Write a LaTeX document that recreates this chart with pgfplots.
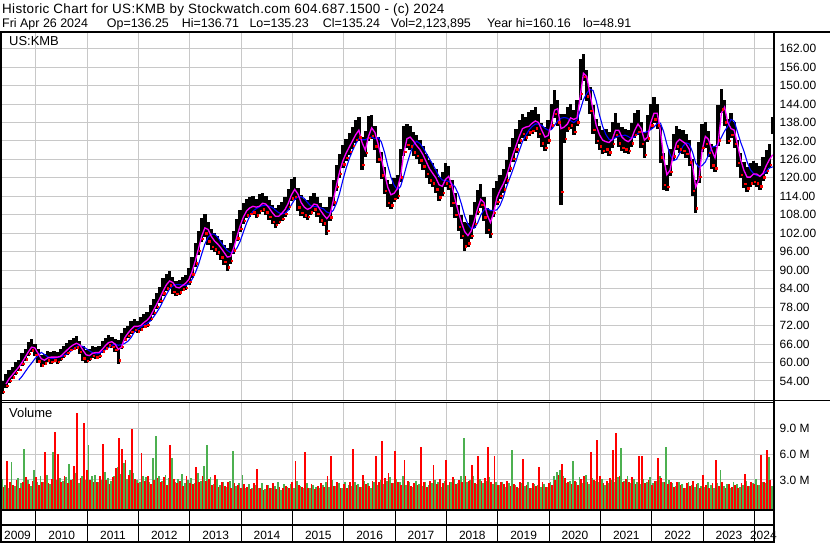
\documentclass[border=0pt]{standalone}
\usepackage{pgfplots}
\pgfplotsset{compat=1.18}
\usepackage{pgfplotstable}
\usepackage{fontspec}
\setmainfont{Liberation Sans}
\newfontfamily\hdrfontA[LetterSpace=2.5]{Liberation Sans}
\definecolor{vgreen}{RGB}{76,176,80}
\definecolor{gridgray}{RGB}{200,200,200}
\definecolor{mag}{RGB}{255,0,255}
\definecolor{mablue}{RGB}{0,0,255}

\pgfplotstableread{
i p r m1 m2 vr vg
0 50.5 1.5 nan nan 2.6 2.9
1 52 1.4 nan nan 2.2 3.1
2 54 1.5 53 nan 5.2 2.4
3 55.5 1.3 54.75 nan 2.8 2.0
4 56.5 1.2 56 nan 2.4 5.1
5 58 1.3 57.25 nan 3.0 2.3
6 59 1.2 58.5 54.3 2.1 3.2
7 61 1.4 60 55.5 2.7 2.6
8 62.5 1.3 61.75 57 3.3 6.6
9 64.5 1.5 63.5 58.5 2.5 3.0
10 65.5 1.4 65 59.8 2.9 2.3
11 64 1.3 64.75 61.2 3.3 4.2
12 62 1.5 63 62.3 2.4 2.8
13 60.5 1.3 61.25 63.3 2.7 3.4
14 61 1.2 60.75 62.6 6.2 2.7
15 62 1.2 61.5 61.9 2.6 3.6
16 61.5 1.2 61.75 61.4 3.1 2.5
17 62 1.2 61.75 61.4 8.6 6.2
18 61.5 1.2 61.75 61.6 6.0 3.0
19 62.5 1.2 62 61.9 2.8 3.2
20 63.5 1.2 63 62.2 3.4 2.9
21 64.5 1.2 64 62.8 2.6 3.3
22 65.5 1.2 65 63.5 3.0 4.9
23 66 1.3 65.75 64.4 4.6 3.1
24 66.5 1.4 66.25 65.2 10.8 3.8
25 65 1.4 65.75 65.5 3.2 2.6
26 63 1.6 64 65.2 9.6 3.4
27 62 1.3 62.5 64.5 4.1 3.0
28 62.5 1.2 62.25 63.8 3.0 7.0
29 63.5 1.2 63 63.2 2.7 3.5
30 63 1.2 63.25 62.8 2.8 3.6
31 63.5 1.2 63.25 62.9 3.4 2.7
32 65 1.3 64.25 63.5 7.2 3.0
33 66 1.3 65.5 64.2 3.0 3.9
34 67 1.3 66.5 64.9 2.5 3.2
35 66.5 1.2 66.75 65.6 3.3 2.9
36 65.5 1.3 66 66.0 4.4 3.5
37 63.5 2.8 64.25 65.6 7.9 4.5
38 67 1.8 65 65.8 6.6 3.7
39 69 1.4 68 66.2 5.3 5.0
40 70 1.3 69.5 66.9 3.6 3.1
41 71.5 1.4 70.75 68.1 8.9 4.2
42 72 1.3 71.75 69.9 3.1 3.8
43 71.5 1.3 71.75 70.8 2.6 3.0
44 72.5 1.6 72 71.5 6.1 2.7
45 73.5 1.6 73 72.2 2.9 3.5
46 74 1.6 73.75 72.7 3.4 3.3
47 76 1.8 75 73.5 2.5 2.8
48 78 1.8 77 74.8 3.0 5.5
49 80 1.8 79 76.3 3.2 8.1
50 82 1.8 81 78.0 2.7 3.4
51 84.5 2.0 83.25 80.1 3.3 2.9
52 86 1.8 85.25 82.1 2.4 3.6
53 87 1.8 86.5 83.9 7.0 3.2
54 85 1.9 86 84.9 3.1 5.6
55 84 1.7 84.5 85.3 2.6 2.8
56 84.5 1.6 84.25 85.3 2.9 3.1
57 85.5 1.6 85 85.2 2.3 3.7
58 86 1.6 85.75 85.0 3.5 2.6
59 88 1.8 87 85.6 2.6 3.0
60 91 2.4 89.5 87.0 2.5 3.2
61 95 2.8 93 89.1 4.5 2.6
62 99 2.8 97 91.8 2.8 3.8
63 103 2.8 101 95.2 3.4 2.9
64 104.5 2.6 103.75 98.5 2.9 4.6
65 102 2.6 103.25 100.7 3.1 7.0
66 100 2.4 101 101.7 2.4 3.3
67 99 2.2 99.5 101.7 3.6 2.5
68 98 2.2 98.5 100.7 2.2 3.1
69 96.5 2.3 97.25 99.1 2.7 2.4
70 95 2.3 95.75 97.7 2.3 2.7
71 93.5 2.6 94.25 96.4 2.8 2.2
72 95.5 2.4 94.5 95.7 2.0 2.9
73 99 2.6 97.25 95.9 2.6 6.4
74 103 2.6 101 97.2 2.4 2.3
75 106 2.5 104.5 99.4 2.1 2.6
76 108.5 2.4 107.25 102.4 2.5 3.6
77 110 2.2 109.25 105.3 2.2 2.1
78 110.5 2.2 110.25 107.6 1.9 2.5
79 111 2.2 110.75 109.2 2.6 2.0
80 110 2.2 110.5 110.0 4.3 2.4
81 111.5 2.2 110.75 110.6 2.1 2.0
82 112 2.2 111.75 111.0 1.8 2.6
83 111 2.2 111.5 111.1 2.4 1.9
84 109.5 2.2 110.25 110.8 2.0 2.4
85 108 2.2 108.75 110.4 2.6 2.1
86 107 2.2 107.5 109.5 1.9 2.3
87 108 2.2 107.5 108.7 2.2 2.7
88 109 2.2 108.5 108.3 2.0 1.8
89 110.5 2.2 109.75 108.5 2.3 2.5
90 113 2.4 111.75 109.5 2.1 2.2
91 116 2.6 114.5 111.3 2.7 2.5
92 116.5 2.6 116.25 113.0 5.2 2.0
93 113 2.6 114.75 113.8 2.4 2.9
94 111 2.3 112 113.9 2.2 2.3
95 110 2.2 110.5 113.3 6.2 2.1
96 109.5 2.2 109.75 112.0 2.0 2.6
97 111 2.2 110.25 110.9 2.5 2.0
98 112 2.2 111.5 110.7 1.9 2.4
99 110.5 2.2 111.25 110.6 2.3 2.2
100 108.5 2.3 109.5 110.3 2.6 2.0
101 107.5 2.2 108 109.9 2.2 2.4
102 106 3.2 106.75 108.9 3.4 2.7
103 110 2.8 108 108.5 5.8 2.2
104 115 3.0 112.5 109.4 2.3 3.0
105 120 3.0 117.5 111.7 2.8 2.3
106 124 2.8 122 115.0 2.0 2.6
107 127 2.6 125.5 119.2 2.5 2.1
108 129 2.6 128 123.0 2.1 2.8
109 131 2.6 130 126.2 2.7 2.4
110 133 2.6 132 128.8 6.6 2.3
111 135 2.6 134 131.0 2.4 2.7
112 136 2.8 135.5 132.8 2.2 2.5
113 128 4.0 131.5 132.4 3.6 2.2
114 131 3.0 129 132.4 2.5 2.9
115 136 3.0 133.5 133.0 2.3 2.6
116 136.5 2.8 136.25 133.3 2.9 2.1
117 133 2.8 134.75 132.7 5.8 2.8
118 129 3.0 131 133.1 2.7 2.4
119 124 3.2 126.5 131.7 7.5 3.0
120 119 3.2 121.5 128.3 3.2 2.5
121 115 3.2 117 124.0 3.8 2.9
122 114 3.0 114.5 120.2 2.6 3.3
123 116 2.8 115 117.6 6.4 2.6
124 117 2.8 116.5 116.2 2.8 3.1
125 124 4.0 120.5 117.2 2.4 2.7
126 132 3.6 128 120.6 5.3 3.4
127 133.5 2.8 132.75 124.5 2.9 2.4
128 133 2.8 133.25 127.9 2.3 2.8
129 131 2.8 132 130.7 2.6 2.2
130 130 2.8 130.5 131.9 2.4 2.9
131 128.5 2.8 129.25 131.2 6.8 2.5
132 126.5 2.8 127.5 129.8 2.7 2.3
133 124 2.8 125.25 128.0 2.2 2.8
134 122 2.8 123 126.2 2.9 2.4
135 121 2.8 121.5 124.4 4.7 2.6
136 119 2.8 120 122.5 2.5 3.0
137 116.5 2.8 117.75 120.5 3.1 2.7
138 118 2.8 117.25 119.3 2.6 2.2
139 121 2.8 119.5 119.1 5.3 2.9
140 120 2.8 120.5 118.9 2.8 2.4
141 115 3.2 117.5 118.1 3.3 2.7
142 111 3.0 113 117.0 2.5 3.1
143 107 3.0 109 114.8 3.0 2.6
144 104 2.8 105.5 111.4 2.7 3.5
145 101 3.4 102.5 107.6 3.4 7.9
146 101.5 2.8 101.25 104.9 2.9 2.8
147 104 2.8 102.75 103.5 4.7 3.0
148 108 3.0 106 103.7 2.6 3.4
149 112 3.0 110 105.3 5.8 2.5
150 114 2.8 113 107.9 2.9 3.1
151 110 2.8 112 109.6 3.2 2.6
152 106 3.0 108 110.0 6.8 2.9
153 105 3.2 105.5 109.4 2.7 3.3
154 112 3.4 108.5 109.4 5.8 2.5
155 115 2.8 113.5 109.6 2.4 2.8
156 117 2.8 116 111.0 2.8 2.4
157 119 2.8 118 113.6 2.5 2.7
158 122 2.8 120.5 117.0 2.9 2.2
159 126 2.9 124 119.8 2.3 2.6
160 129 2.8 127.5 122.6 2.5 6.5
161 132 2.8 130.5 125.6 2.2 2.4
162 135 2.8 133.5 128.8 2.7 2.0
163 137 2.8 136 131.8 5.4 2.6
164 136 2.8 136.5 133.8 2.4 2.3
165 137.5 2.8 136.75 135.5 2.1 2.7
166 138 2.8 137.75 136.7 2.6 2.1
167 139 3.0 138.5 137.5 2.3 2.5
168 137 2.8 138 137.5 4.5 2.4
169 134 2.8 135.5 137.1 2.8 2.2
170 132.5 2.8 133.25 136.1 2.2 2.5
171 135 2.8 133.75 135.5 2.6 2.2
172 140 3.0 137.5 135.7 2.4 2.8
173 144 3.2 142 137.1 3.0 3.4
174 141 3.0 142.5 138.5 3.6 3.9
175 126 11.5 136 139.4 4.8 4.2
176 136 3.4 136.5 139.6 3.2 3.5
177 139 3.0 137.5 139.4 2.7 2.6
178 140 3.0 139.5 138.6 2.5 2.9
179 138 3.0 139 138.0 2.9 5.2
180 141 3.0 139.5 138.8 2.4 2.8
181 152 5.0 146.5 142.0 3.1 3.3
182 156 3.2 154 145.4 3.5 2.6
183 150 3.6 153 147.4 2.8 3.6
184 145 3.2 147.5 148.8 6.2 2.5
185 139 3.4 142 148.4 3.0 3.2
186 135 3.0 137 145.0 7.6 2.9
187 133 2.8 134 140.4 3.4 2.7
188 131.5 2.8 132.25 136.7 2.6 3.1
189 132 2.8 131.75 134.1 2.9 2.4
190 131 2.8 131.5 132.5 3.2 2.6
191 134 3.0 132.5 132.3 6.5 3.0
192 137 3.0 135.5 133.1 8.4 2.7
193 134 2.8 135.5 133.6 3.5 3.3
194 132.5 2.8 133.25 133.7 2.8 6.7
195 132 2.8 132.25 133.9 3.1 2.9
196 131.5 2.8 131.75 133.4 2.7 3.4
197 134 2.8 132.75 132.8 3.3 2.6
198 137 3.0 135.5 133.4 2.5 3.1
199 138 3.0 137.5 134.5 5.8 2.8
200 134 3.0 136 134.9 5.8 2.5
201 130.5 3.0 132.25 134.7 2.6 3.1
202 136 3.2 133.25 135.1 3.0 2.7
203 140 3.0 138 135.7 2.4 3.3
204 142 3.0 141 136.5 2.9 2.6
205 140 3.0 141 137.7 5.5 2.9
206 131 4.5 135.5 137.8 3.2 3.5
207 122 4.5 126.5 135.0 2.7 2.8
208 120 3.0 121 131.0 2.5 6.8
209 125 3.2 122.5 127.6 2.8 3.0
210 130 3.0 127.5 125.6 2.2 2.6
211 133 2.8 131.5 126.0 2.7 2.3
212 132 2.8 132.5 128.0 2.4 2.8
213 131.5 2.8 131.75 130.3 2.0 2.5
214 130.5 2.8 131 131.4 2.6 2.1
215 128 3.0 129.25 131.0 2.3 2.7
216 120 4.5 124 128.4 2.9 2.4
217 114 4.0 117 124.8 2.5 2.2
218 125 5.0 119.5 123.5 2.1 2.6
219 133 3.4 129 124.0 3.6 2.3
220 134 3.0 133.5 125.2 2.4 2.2
221 131 3.0 132.5 127.4 2.1 2.7
222 127 3.0 129 130.0 2.6 2.4
223 126 3.0 126.5 130.2 5.3 2.0
224 137 5.0 131.5 131.0 2.3 2.6
225 145 2.8 141 133.2 2.7 4.2
226 141 3.0 143 135.2 2.0 2.3
227 135 3.0 138 136.8 2.5 2.5
228 137 3.0 136 139.0 2.2 2.1
229 134 3.0 135.5 138.4 2.4 2.8
230 128 3.2 131 135.0 2.1 2.5
231 124 3.0 126 131.6 2.6 2.2
232 121 3.0 122.5 128.8 3.7 2.4
233 119.5 3.0 120.25 125.3 2.3 2.9
234 121 2.8 120.25 122.7 2.8 2.3
235 121.5 2.8 121.25 121.4 2.5 2.6
236 121 2.8 121.25 120.8 2.4 3.1
237 120 2.8 120.5 120.6 5.9 2.4
238 123 2.8 121.5 121.3 2.7 2.8
239 125 2.8 124 122.1 6.5 2.6
240 127 2.8 126 123.2 3.0 5.7
241 137 2.0 127.5 123.6 2.6 2.3
}\kmb

\begin{document}
\begin{tikzpicture}
\useasboundingbox (0bp,0bp) rectangle (830bp,543bp);
% ---------------- price panel
\begin{axis}[
  at={(0bp,142bp)}, anchor=south west,
  width=773bp, height=369bp, scale only axis,
  xmin=2009.2987, xmax=2024.358,
  ymin=47.5, ymax=167.4,
  axis line style={draw=none},
  xtick={2010,...,2024}, xticklabels={},
  ytick={54,60,...,162},
  grid=major, major grid style={gridgray, line width=1bp},
  major tick length=0pt,
  yticklabel pos=right,
  /pgf/number format/fixed, /pgf/number format/fixed zerofill,
  /pgf/number format/precision=2, /pgf/number format/assume math mode=true,
  yticklabel style={anchor=west, inner sep=0pt, xshift=6.5bp, font=\fontsize{12}{14}\selectfont},
]
\addplot[draw=none, mark=none, forget plot,
  error bars/.cd, y dir=both, y explicit, error mark=none,
  error bar style={draw=black, line width=3.4bp}]
  table[x expr=2009.29+\thisrow{i}/16, y=p, y error expr=1.25*\thisrow{r}+0.4] {\kmb};
\addplot[only marks, mark=square*, mark size=0.7bp, mark options={draw=red, fill=red}]
  table[x expr=2009.29+\thisrow{i}/16+0.024, y expr=\thisrow{p}-0.9*\thisrow{r}-0.2] {\kmb};
\addplot[mablue, line width=1.1bp, mark=none] table[x expr=2009.29+\thisrow{i}/16, y=m2] {\kmb};
\addplot[mag, line width=1.3bp, mark=none] table[x expr=2009.29+\thisrow{i}/16, y=m1] {\kmb};
\end{axis}
% ---------------- volume panel
\begin{axis}[
  at={(0bp,33bp)}, anchor=south west,
  width=773bp, height=107bp, scale only axis,
  xmin=2009.2987, xmax=2024.358,
  ymin=0, ymax=12.44,
  axis line style={draw=none},
  xtick={2010,...,2024}, xticklabels={},
  xtick pos=left, tick align=outside, major tick length=32bp,
  xtick style={draw=black, line width=1bp},
  ytick style={draw=none},
  ytick={3.5,6.5,9.5}, yticklabels={3.0 M,6.0 M,9.0 M},
  grid=major, major grid style={gridgray, line width=1bp},
  yticklabel pos=right,
  yticklabel style={anchor=west, inner sep=0pt, xshift=-25.5bp, font=\fontsize{12}{14}\selectfont},
  extra x ticks={2009.64,2010.5,2011.5,2012.5,2013.5,2014.5,2015.5,2016.5,2017.5,2018.5,2019.5,2020.5,2021.5,2022.5,2023.5,2024.17},
  extra x tick labels={2009,2010,2011,2012,2013,2014,2015,2016,2017,2018,2019,2020,2021,2022,2023,2024},
  extra x tick style={grid=none, major tick length=0pt,
     xticklabel style={anchor=base, inner sep=0pt, yshift=-29.3bp, font=\fontsize{12}{14}\selectfont}},
]
\addplot[ycomb, draw=vgreen, line width=1.8bp, mark=none] table[x expr=2009.29+\thisrow{i}/16-0.016, y expr=\thisrow{vg}+0.5] {\kmb};
\addplot[ycomb, draw=red, line width=1.8bp, mark=none] table[x expr=2009.29+\thisrow{i}/16+0.016, y expr=\thisrow{vr}+0.5] {\kmb};
\end{axis}
% ---------------- frame
\draw[line width=2bp] (0bp,511bp) -- (830bp,511bp);
\draw[line width=2bp] (1bp,0bp) -- (1bp,512bp);
\draw[line width=2bp] (774bp,0bp) -- (774bp,512bp);
\draw[line width=1bp] (0bp,142.3bp) -- (830bp,142.3bp);
\draw[line width=1bp] (0bp,140.3bp) -- (774bp,140.3bp);
\draw[line width=2bp] (0bp,33bp) -- (774bp,33bp);
\draw[line width=2bp] (0bp,18bp) -- (774bp,18bp);
\draw[line width=2bp] (0bp,1bp) -- (774bp,1bp);
% ---------------- texts
\node[anchor=base west, inner sep=0pt, font=\hdrfontA\fontsize{13.5}{15}\selectfont] at (2bp,529.7bp) {Historic Chart for US:KMB by Stockwatch.com 604.687.1500 - (c) 2024};
\begin{scope}[every node/.style={anchor=base west, inner sep=0pt, font=\fontsize{12.5}{15}\selectfont}]
\node at (2bp,515.7bp) {Fri Apr 26 2024};
\node at (106.7bp,515.7bp) {Op=136.25};
\node at (181.7bp,515.7bp) {Hi=136.71};
\node at (249.3bp,515.7bp) {Lo=135.23};
\node at (322.7bp,515.7bp) {Cl=135.24};
\node at (390.7bp,515.7bp) {Vol=2,123,895};
\node at (487bp,515.7bp) {Year hi=160.16};
\node at (583bp,515.7bp) {lo=48.91};
\end{scope}
\node[anchor=base west, inner sep=0pt, font=\fontsize{13}{15}\selectfont] at (9bp,497bp) {US:KMB};
\node[anchor=base west, inner sep=0pt, font=\fontsize{13}{15}\selectfont] at (9bp,125bp) {Volume};
\end{tikzpicture}
\end{document}
